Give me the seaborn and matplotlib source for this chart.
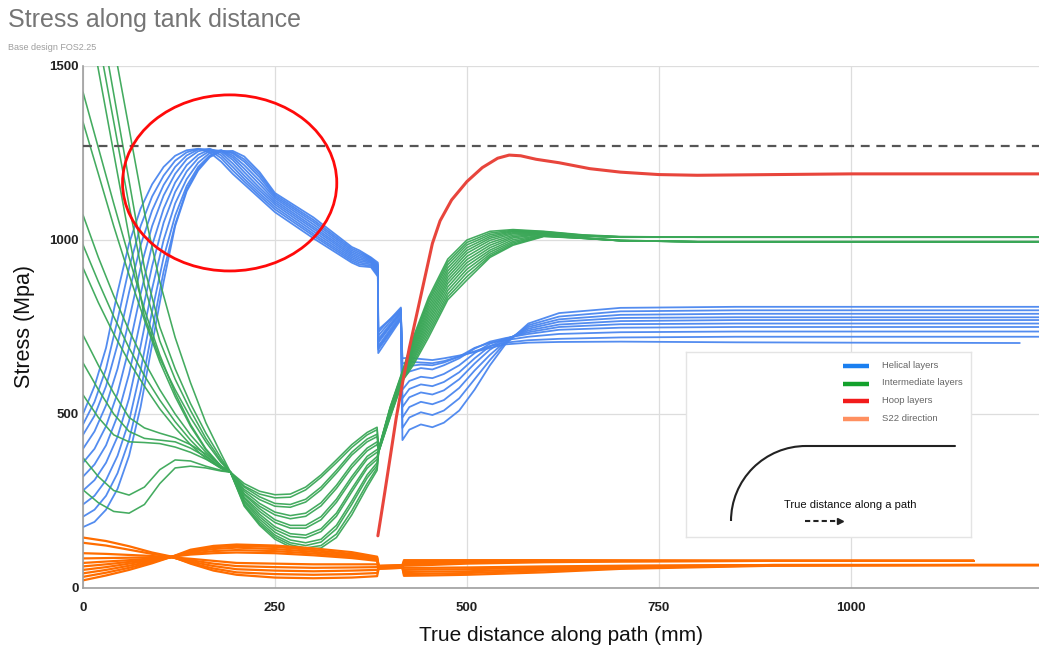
import numpy as np
import pandas as pd
import matplotlib
matplotlib.use("Agg")
import matplotlib.pyplot as plt
from matplotlib.patches import Ellipse, Arc
import seaborn as sns

# ---------------- data ----------------
TITLE = "Stress along tank distance"
SUBTITLE = "Base design FOS2.25"
X_LABEL = "True distance along path (mm)"
Y_LABEL = "Stress (Mpa)"
X_TICKS = [0, 250, 500, 750, 1000]
Y_TICKS = [0, 500, 1000, 1500]
ALLOWABLE = 1270
LEGEND_LABELS = ["Helical layers", "Intermediate layers", "Hoop layers", "S22 direction"]

nan = np.nan

# Helical layers (blue)
BLUE_X = [0, 15, 30, 45, 60, 75, 90, 105, 120, 135, 150, 165, 180, 195, 210, 230, 250, 300, 350,
          360, 375, 384, 384.5, 414, 416,
          425, 440, 455, 470, 490, 510, 530, 550, 580, 620, 700, 850, 1000, 1220, 1245]
BLUE_Y = [
    [500, 580, 690, 850, 990, 1090, 1160, 1210, 1242, 1258, 1262, 1252, 1225, 1190, 1160, 1120, 1080, 1005, 935,
     925, 922, 895, 690, 780, 660,
     662, 658, 655, 660, 668, 678, 690, 700, 705, 707, 708, 706, 705, 704, nan],
    [470, 535, 630, 770, 920, 1040, 1125, 1185, 1228, 1252, 1262, 1258, 1235, 1200, 1168, 1127, 1088, 1012, 940,
     930, 926, 900, 705, 792, 645,
     650, 648, 646, 652, 665, 680, 695, 705, 712, 716, 720, 722, 722, 722, 722],
    [440, 495, 580, 700, 850, 985, 1085, 1158, 1210, 1243, 1260, 1261, 1243, 1210, 1176, 1134, 1095, 1018, 945,
     935, 930, 905, 675, 772, 628,
     638, 642, 640, 648, 665, 690, 705, 712, 722, 730, 735, 737, 737, 737, 737],
    [400, 450, 525, 630, 770, 920, 1040, 1128, 1190, 1232, 1255, 1262, 1250, 1220, 1185, 1142, 1102, 1025, 950,
     940, 934, 910, 715, 797, 600,
     622, 632, 628, 640, 660, 688, 708, 718, 730, 742, 748, 750, 750, 750, 750],
    [360, 400, 465, 560, 690, 845, 985, 1090, 1165, 1215, 1245, 1260, 1255, 1230, 1195, 1150, 1108, 1032, 955,
     945, 937, 914, 685, 776, 570,
     595, 607, 603, 615, 640, 675, 702, 716, 735, 750, 758, 760, 760, 760, 760],
    [320, 355, 410, 495, 615, 770, 925, 1050, 1138, 1197, 1235, 1256, 1257, 1237, 1205, 1160, 1114, 1038, 960,
     950, 940, 918, 725, 802, 545,
     572, 585, 580, 592, 620, 660, 695, 714, 740, 757, 767, 770, 770, 770, 770],
    [280, 310, 360, 435, 545, 695, 860, 1000, 1105, 1175, 1222, 1250, 1258, 1243, 1215, 1170, 1120, 1045, 965,
     955, 943, 922, 695, 786, 520,
     548, 562, 556, 568, 600, 645, 685, 712, 745, 765, 776, 778, 778, 778, 778],
    [240, 265, 310, 380, 480, 625, 795, 950, 1070, 1155, 1210, 1243, 1257, 1249, 1225, 1180, 1125, 1052, 970,
     960, 946, 926, 735, 806, 490,
     520, 535, 528, 540, 575, 625, 670, 708, 750, 772, 785, 788, 788, 788, 788],
    [205, 225, 265, 330, 425, 565, 740, 910, 1045, 1145, 1204, 1240, 1256, 1252, 1232, 1188, 1130, 1058, 975,
     965, 948, 930, 710, 792, 460,
     490, 505, 497, 510, 545, 600, 655, 705, 755, 780, 795, 798, 798, 798, 798],
    [175, 190, 225, 285, 380, 520, 700, 880, 1040, 1140, 1200, 1238, 1255, 1256, 1240, 1195, 1135, 1065, 980,
     970, 950, 935, 742, 800, 425,
     455, 470, 462, 475, 510, 570, 640, 700, 760, 790, 805, 808, 808, 808, 808],
]

# Intermediate layers (green)
GREEN_X = [0, 20, 40, 60, 80, 100, 120, 140, 160, 180, 192,
           210, 230, 250, 270, 290, 310, 330, 350, 370, 383,
           385, 400, 417, 430, 450, 475, 500, 530, 560, 600, 650, 700, 800, 1000, 1245]
GREEN_Y = [
    [1730, 1490, 1250, 1010, 780, 660, 570, 490, 420, 360, 333,
     300, 278, 268, 270, 290, 325, 368, 412, 447, 462,
     400, 520, 630, 720, 835, 945, 1000, 1025, 1030, 1025, 1015, 1010, 1008, 1008, 1008],
    [1820, 1580, 1340, 1100, 870, 710, 600, 510, 430, 365, 333,
     293, 270, 259, 261, 282, 318, 360, 404, 440, 455,
     399, 518, 627, 714, 827, 937, 993, 1020, 1028, 1024, 1014, 1009, 1008, 1008, 1008],
    [1920, 1670, 1420, 1170, 920, 750, 630, 530, 445, 372, 333,
     290, 262, 243, 240, 255, 290, 338, 390, 428, 442,
     398, 516, 624, 708, 819, 929, 986, 1015, 1026, 1023, 1013, 1009, 1008, 1008, 1008],
    [2050, 1800, 1560, 1320, 1080, 880, 720, 590, 475, 385, 333,
     283, 254, 235, 232, 247, 282, 330, 382, 420, 435,
     397, 514, 621, 702, 810, 920, 978, 1010, 1024, 1022, 1012, 1009, 1008, 1008, 1008],
    [1425, 1265, 1105, 950, 800, 670, 560, 470, 400, 350, 333,
     278, 243, 218, 208, 215, 245, 295, 355, 402, 420,
     396, 512, 618, 696, 801, 911, 970, 1005, 1021, 1021, 1012, 1008, 1008, 1008, 1008],
    [1339, 1190, 1040, 900, 770, 650, 550, 465, 397, 348, 333,
     271, 235, 210, 199, 206, 236, 286, 346, 394, 412,
     396, 510, 615, 690, 792, 902, 962, 999, 1018, 1020, 1011, 1008, 1008, 1008, 1008],
    [1072, 950, 840, 740, 650, 570, 500, 440, 390, 350, 333,
     268, 228, 196, 180, 180, 205, 255, 320, 378, 398,
     395, 508, 613, 684, 783, 893, 953, 992, 1014, 1019, 1011, 1008, 1008, 1008, 1008],
    [986, 880, 780, 690, 610, 540, 478, 425, 380, 345, 333,
     261, 220, 188, 172, 172, 196, 246, 311, 370, 390,
     394, 506, 611, 678, 774, 884, 944, 985, 1010, 1018, 1006, 999, 995, 995, 995],
    [920, 820, 730, 650, 580, 515, 460, 412, 372, 343, 333,
     258, 212, 176, 156, 152, 170, 215, 285, 352, 378,
     394, 503, 609, 672, 765, 875, 935, 978, 1006, 1017, 1006, 999, 995, 995, 995],
    [727, 640, 560, 490, 460, 445, 432, 412, 385, 350, 333,
     252, 205, 168, 148, 144, 162, 206, 276, 344, 370,
     393, 500, 607, 666, 756, 865, 926, 971, 1001, 1015, 1006, 998, 995, 995, 995],
    [647, 570, 500, 450, 430, 425, 420, 402, 377, 346, 333,
     248, 198, 160, 138, 130, 140, 180, 250, 325, 360,
     392, 498, 605, 660, 747, 855, 916, 965, 996, 1014, 1006, 998, 995, 995, 995],
    [555, 490, 440, 420, 418, 415, 405, 390, 370, 345, 333,
     242, 191, 152, 130, 122, 132, 170, 240, 316, 352,
     392, 495, 603, 654, 738, 845, 906, 959, 992, 1012, 1005, 998, 995, 995, 995],
    [374, 320, 280, 267, 290, 340, 368, 365, 350, 338, 333,
     238, 185, 146, 124, 115, 122, 155, 222, 300, 345,
     391, 492, 600, 647, 729, 836, 895, 954, 988, 1011, 1005, 998, 995, 995, 995],
    [282, 245, 220, 215, 240, 300, 345, 350, 345, 336, 333,
     235, 180, 140, 118, 110, 115, 145, 210, 290, 338,
     390, 490, 598, 640, 720, 828, 885, 950, 985, 1010, 1005, 998, 995, 995, 995],
]

# Hoop layers (red)
RED_X = [384, 388, 393, 400, 408, 417, 425, 435, 445, 455, 465, 480, 500, 520, 540, 555, 570, 590,
         620, 660, 700, 750, 800, 900, 1000, 1245]
RED_Y = [150, 205, 275, 375, 490, 600, 690, 790, 890, 990, 1055, 1115, 1168, 1208, 1235, 1244, 1242, 1232,
         1222, 1205, 1195, 1188, 1186, 1188, 1190, 1190]

# S22 direction (orange)
ORANGE_X = [0, 30, 60, 90, 116, 140, 170, 200, 250, 300, 350, 383, 385, 416, 418,
            450, 500, 600, 700, 900, 1160, 1245]
ORANGE_Y = [
    [145, 135, 120, 102, 90, 70, 50, 38, 30, 28, 30, 34, 55, 58, 35, 36, 38, 45, 55, 64, 66, 66],
    [130, 122, 110, 98, 89, 72, 56, 45, 40, 38, 40, 43, 56, 58, 40, 41, 43, 50, 58, 65, 66, 66],
    [100, 98, 95, 92, 88, 76, 63, 54, 50, 48, 50, 52, 57, 59, 46, 47, 48, 54, 61, 66, 66, 66],
    [85, 86, 87, 88, 88, 80, 70, 63, 60, 58, 59, 60, 58, 60, 52, 53, 54, 58, 63, 66, 66, 66],
    [72, 76, 80, 85, 88, 84, 78, 72, 70, 68, 68, 68, 59, 61, 58, 58, 59, 62, 64, 66, 66, 66],
    [62, 68, 75, 83, 90, 96, 100, 102, 100, 94, 86, 78, 60, 62, 64, 66, 70, 74, 76, 78, 78, nan],
    [52, 60, 70, 80, 90, 99, 106, 109, 106, 99, 90, 82, 61, 63, 68, 70, 73, 76, 77, 78, 78, nan],
    [42, 52, 64, 77, 90, 103, 112, 116, 112, 104, 94, 85, 62, 64, 72, 73, 76, 78, 78, 78, 78, nan],
    [32, 44, 58, 74, 90, 106, 117, 121, 118, 109, 98, 88, 63, 65, 76, 77, 78, 79, 79, 78, 78, nan],
    [22, 36, 52, 71, 90, 110, 121, 125, 122, 114, 103, 90, 64, 66, 80, 80, 80, 80, 79, 78, 78, nan],
]

# highlighted region (red ellipse): centre x, centre y, width, height in data units
HIGHLIGHT = (191, 1164, 279, 506)

COLORS = {"blue": "#4a86ef", "green": "#3aa757", "red": "#e8453c", "orange": "#ff6d00"}
LEGEND_COLORS = ["#1a7ff0", "#13a12c", "#f21b1b", "#ff9060"]


def to_long(xs, ys):
    rows = []
    for i, yy in enumerate(ys):
        for x, y in zip(xs, yy):
            if not np.isnan(y):
                rows.append((x, y, i))
    return pd.DataFrame(rows, columns=["x", "y", "curve"])


# ---------------- figure ----------------
sns.set_style("white")
plt.rcParams["font.family"] = ["Liberation Sans", "DejaVu Sans"]

W, H = 1039, 646
fig = plt.figure(figsize=(W / 100, H / 100), dpi=100)
ax = fig.add_axes([83 / W, 1 - 588 / H, 956 / W, 522 / H])

sns.lineplot(data=to_long(BLUE_X, BLUE_Y), x="x", y="y", units="curve", estimator=None,
             sort=False, color=COLORS["blue"], lw=1.3, alpha=0.95, ax=ax, legend=False)
sns.lineplot(data=to_long(GREEN_X, GREEN_Y), x="x", y="y", units="curve", estimator=None,
             sort=False, color=COLORS["green"], lw=1.15, alpha=0.95, ax=ax, legend=False)
sns.lineplot(x=RED_X, y=RED_Y, sort=False, color=COLORS["red"], lw=2.2, ax=ax, legend=False)
sns.lineplot(data=to_long(ORANGE_X, ORANGE_Y), x="x", y="y", units="curve", estimator=None,
             sort=False, color=COLORS["orange"], lw=1.6, ax=ax, legend=False)

ax.axhline(ALLOWABLE, color="#555555", lw=1.6, ls=(0, (4, 3)), zorder=5)

cx, cy, ew, eh = HIGHLIGHT
ax.add_patch(Ellipse((cx, cy), ew, eh, fill=False, edgecolor="#ff0a0a", lw=2.0, zorder=6))

ax.set_xlim(0, 1245)
ax.set_ylim(0, 1500)
ax.set_xticks(X_TICKS)
ax.set_yticks(Y_TICKS)
ax.grid(True, color="#dddddd", lw=0.9)
ax.set_axisbelow(True)
for s in ["top", "right"]:
    ax.spines[s].set_visible(False)
for s in ["left", "bottom"]:
    ax.spines[s].set_color("#9e9e9e")
    ax.spines[s].set_linewidth(1.2)
ax.tick_params(axis="y", length=0, labelsize=9.5, labelcolor="#222222", pad=3)
ax.tick_params(axis="x", length=0, labelsize=9.5, labelcolor="#222222", pad=10)
for lab in ax.get_xticklabels() + ax.get_yticklabels():
    lab.set_fontweight("bold")
ax.set_xlabel(X_LABEL, fontsize=15, color="#111111", labelpad=9)
ax.set_ylabel(Y_LABEL, fontsize=15.5, color="#111111", labelpad=10)

fig.text(8 / W, 1 - 20 / H, TITLE, fontsize=18, color="#757575", va="center", ha="left")
fig.text(8 / W, 1 - 48 / H, SUBTITLE, fontsize=6.5, color="#9e9e9e", va="center", ha="left")

# ---------------- legend / path inset ----------------
lax = fig.add_axes([686 / W, 1 - 537 / H, 285 / W, 185 / H])
lax.set_xlim(0, 285)
lax.set_ylim(0, 185)
lax.set_xticks([])
lax.set_yticks([])
lax.set_facecolor("white")
for s in lax.spines.values():
    s.set_color("#e4e4e4")
    s.set_linewidth(1.0)
for i, (lab, col) in enumerate(zip(LEGEND_LABELS, LEGEND_COLORS)):
    yy = 171 - i * 17.7
    lax.plot([157, 183], [yy, yy], color=col, lw=3.2, solid_capstyle="butt")
    lax.text(196, yy + 1, lab, fontsize=6.8, color="#666666", va="center", ha="left")
lax.add_patch(Arc((120, 16), 150, 150, theta1=90, theta2=180, color="#222222", lw=1.5))
lax.plot([120, 269], [91, 91], color="#222222", lw=1.5)
lax.text(164, 32, "True distance along a path", fontsize=8, color="#111111", ha="center", va="center")
lax.plot([119, 151], [16, 16], color="#222222", lw=1.5, ls=(0, (2.5, 1.5)))
lax.plot([154], [16], marker=">", color="#222222", markersize=5)

fig.savefig("out.png", dpi=100)
